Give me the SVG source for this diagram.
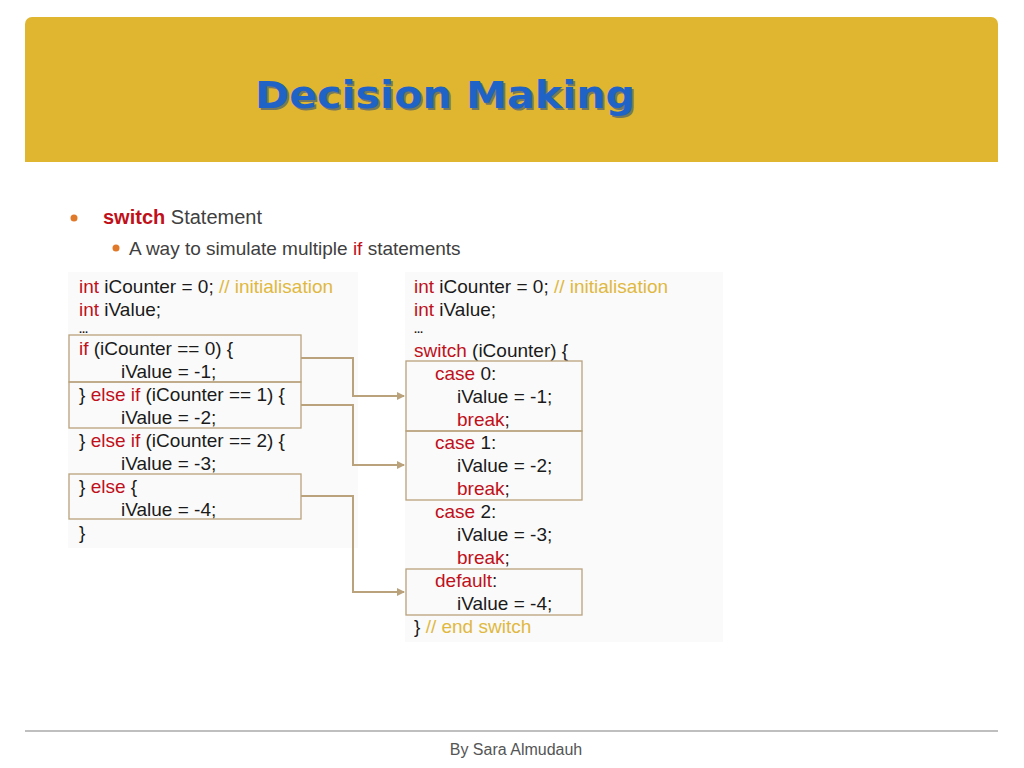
<svg xmlns="http://www.w3.org/2000/svg" width="1024" height="768" viewBox="0 0 1024 768">
<defs>
<style>
text{font-family:"Liberation Sans",Arial,sans-serif;fill:#1a1a1a}
.c{font-size:19px}
.d{font-size:11px;font-weight:bold}
.k{fill:#c0101a}
.m{fill:#e0b840}
.box{fill:none;stroke:#b9a27c;stroke-width:1.3}
.con{fill:none;stroke:#b9a27c;stroke-width:2}
</style>
<marker id="ah" markerWidth="8" markerHeight="8" refX="7" refY="4" orient="auto" markerUnits="userSpaceOnUse"><path d="M0,0 L8,4 L0,8 z" fill="#b9a27c"/></marker>
</defs>
<rect width="1024" height="768" fill="#fff"/>
<g id="header">
<path d="M25,24 a7,7 0 0 1 7,-7 H991 a7,7 0 0 1 7,7 V162 H25 z" fill="#e0b530"/>
<text x="257" y="110" font-size="37" font-weight="bold" textLength="380" lengthAdjust="spacingAndGlyphs" style="fill:#0e3f8a;font-family:'DejaVu Sans',sans-serif" opacity="0.5">Decision Making</text>
<text x="255" y="108" font-size="37" font-weight="bold" textLength="380" lengthAdjust="spacingAndGlyphs" style="fill:#1f63c6;font-family:'DejaVu Sans',sans-serif">Decision Making</text>
</g>
<g id="bullets">
<circle cx="74" cy="218" r="3.5" fill="#e07a2a"/>
<text x="103" y="224" font-size="20"><tspan font-weight="bold" class="k">switch</tspan><tspan style="fill:#404040"> Statement</tspan></text>
<circle cx="116" cy="248" r="3.5" fill="#e07a2a"/>
<text x="129" y="255" font-size="19" style="fill:#404040">A way to simulate multiple <tspan class="k">if</tspan> statements</text>
</g>
<g id="left-code">
<rect x="68" y="272" width="290" height="276" fill="#fafafa"/>
<text class="c" x="79" y="293"><tspan class="k">int</tspan> iCounter = 0; <tspan class="m">// initialisation</tspan></text>
<text class="c" x="79" y="316"><tspan class="k">int</tspan> iValue;</text>
<text class="d" x="79" y="333">...</text>
<text class="c" x="79" y="355"><tspan class="k">if</tspan> (iCounter == 0) {</text>
<text class="c" x="121" y="378">iValue = -1;</text>
<text class="c" x="79" y="401">} <tspan class="k">else if</tspan> (iCounter == 1) {</text>
<text class="c" x="121" y="424">iValue = -2;</text>
<text class="c" x="79" y="447">} <tspan class="k">else if</tspan> (iCounter == 2) {</text>
<text class="c" x="121" y="470">iValue = -3;</text>
<text class="c" x="79" y="493">} <tspan class="k">else</tspan> {</text>
<text class="c" x="121" y="516">iValue = -4;</text>
<text class="c" x="79" y="539">}</text>
<rect class="box" x="69" y="335" width="232" height="47"/>
<rect class="box" x="69" y="382" width="232" height="46"/>
<rect class="box" x="69" y="474" width="232" height="45"/>
</g>
<g id="right-code">
<rect x="405" y="272" width="318" height="370" fill="#fafafa"/>
<text class="c" x="414" y="293"><tspan class="k">int</tspan> iCounter = 0; <tspan class="m">// initialisation</tspan></text>
<text class="c" x="414" y="316"><tspan class="k">int</tspan> iValue;</text>
<text class="d" x="414" y="333">...</text>
<text class="c" x="414" y="357"><tspan class="k">switch</tspan> (iCounter) {</text>
<text class="c" x="435" y="380"><tspan class="k">case</tspan> 0:</text>
<text class="c" x="457" y="403">iValue = -1;</text>
<text class="c" x="457" y="426"><tspan class="k">break</tspan>;</text>
<text class="c" x="435" y="449"><tspan class="k">case</tspan> 1:</text>
<text class="c" x="457" y="472">iValue = -2;</text>
<text class="c" x="457" y="495"><tspan class="k">break</tspan>;</text>
<text class="c" x="435" y="518"><tspan class="k">case</tspan> 2:</text>
<text class="c" x="457" y="541">iValue = -3;</text>
<text class="c" x="457" y="564"><tspan class="k">break</tspan>;</text>
<text class="c" x="435" y="587"><tspan class="k">default</tspan>:</text>
<text class="c" x="457" y="610">iValue = -4;</text>
<text class="c" x="414" y="633">} <tspan class="m">// end switch</tspan></text>
<rect class="box" x="406" y="361" width="176" height="70"/>
<rect class="box" x="406" y="431" width="176" height="69"/>
<rect class="box" x="406" y="569" width="176" height="46"/>
</g>
<g id="connectors">
<path class="con" d="M301,358 H353 V396 H404" marker-end="url(#ah)"/>
<path class="con" d="M301,405 H353 V465 H404" marker-end="url(#ah)"/>
<path class="con" d="M301,496 H353 V592 H404" marker-end="url(#ah)"/>
</g>
<g id="footer">
<line x1="25" y1="731" x2="998" y2="731" stroke="#808080" stroke-width="1.2"/>
<text x="516" y="755" font-size="16" text-anchor="middle" style="fill:#555">By Sara Almudauh</text>
</g>
</svg>
